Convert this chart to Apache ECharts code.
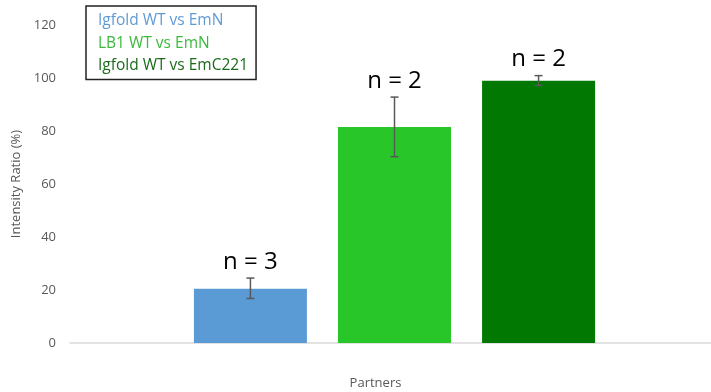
<!DOCTYPE html>
<html><head><meta charset="utf-8">
<script src="https://cdn.jsdelivr.net/npm/echarts@6/dist/echarts.min.js"></script>
<style>html,body{margin:0;padding:0;background:#fff}#c{width:711px;height:392px}</style>
</head><body><div id="c"></div>
<script>
const categories = [''];
const seriesNames = ['Igfold WT vs EmN', 'LB1 WT vs EmN', 'Igfold WT vs EmC221'];
const means = [20.5, 81.5, 99];
const errLow = [16.8, 70.3, 97.2];
const errHigh = [24.5, 92.8, 100.9];
const nLabels = ['n = 3', 'n = 2', 'n = 2'];
const barColors = ['#5b9bd5', '#29c629', '#017801'];
const legendColors = ['#5f9ad6', '#3cba3c', '#1b6b1b'];

const BAR_W = 113, GAP = 0.275;
const FONT = '"Open Sans", "Noto Sans", sans-serif';

const chart = echarts.init(document.getElementById('c'));
const series = seriesNames.map((name, i) => ({
  name, type: 'bar', data: [means[i]], barWidth: BAR_W, barGap: (GAP*100)+'%',
  itemStyle: { color: barColors[i] }
}));
series.push({
  type: 'custom', name: 'err', silent: true, z: 5,
  data: seriesNames.map((n, i) => [0, errLow[i], errHigh[i], i]),
  renderItem(params, api) {
    const i = api.value(3);
    const nS = seriesNames.length;
    const total = nS * BAR_W + (nS - 1) * GAP * BAR_W;
    const c = api.coord([0, 0])[0];
    const x = c - total / 2 + BAR_W / 2 + i * (BAR_W + GAP * BAR_W);
    const yl = api.coord([0, api.value(1)])[1];
    const yh = api.coord([0, api.value(2)])[1];
    const st = { stroke: '#595959', lineWidth: 1.5 };
    return { type: 'group', children: [
      { type: 'line', shape: { x1: x, y1: yl, x2: x, y2: yh }, style: st },
      { type: 'line', shape: { x1: x - 4, y1: yl, x2: x + 4, y2: yl }, style: st },
      { type: 'line', shape: { x1: x - 4, y1: yh, x2: x + 4, y2: yh }, style: st },
      { type: 'text', x: x, y: yh - 4, style: { text: nLabels[i], textAlign: 'center', textVerticalAlign: 'bottom', font: '24px ' + FONT, fill: '#000' } }
    ]};
  }
});

chart.setOption({
  animation: false,
  textStyle: { fontFamily: FONT },
  grid: { left: 70, right: -8, top: 25, bottom: 49, outerBoundsMode: 'none', containLabel: false },
  legend: {
    data: seriesNames.map((n, i) => ({ name: n, textStyle: { color: legendColors[i] } })),
    orient: 'vertical', left: 86, top: 6, icon: 'rect', itemWidth: 0, itemHeight: 0,
    itemGap: 5, padding: [6, 8, 5, 7], borderColor: '#222', borderWidth: 1.5,
    textStyle: { fontSize: 15.5, lineHeight: 17.5, fontFamily: FONT }, selectedMode: false
  },
  xAxis: {
    type: 'category', data: categories,
    name: 'Partners', nameLocation: 'middle', nameGap: 34,
    nameTextStyle: { color: '#595959', fontSize: 13, padding: [0, 38, 0, 0] },
    axisLine: { lineStyle: { color: '#d9d9d9', width: 1.5 } },
    axisTick: { show: false }, axisLabel: { show: false }
  },
  yAxis: {
    type: 'value', min: 0, max: 120, interval: 20,
    name: 'Intensity Ratio (%)', nameLocation: 'middle', nameGap: 45,
    nameTextStyle: { color: '#595959', fontSize: 13 },
    axisLine: { show: false }, axisTick: { show: false },
    axisLabel: { color: '#595959', fontSize: 13, margin: 14 },
    splitLine: { show: false }
  },
  series
});
</script></body></html>
